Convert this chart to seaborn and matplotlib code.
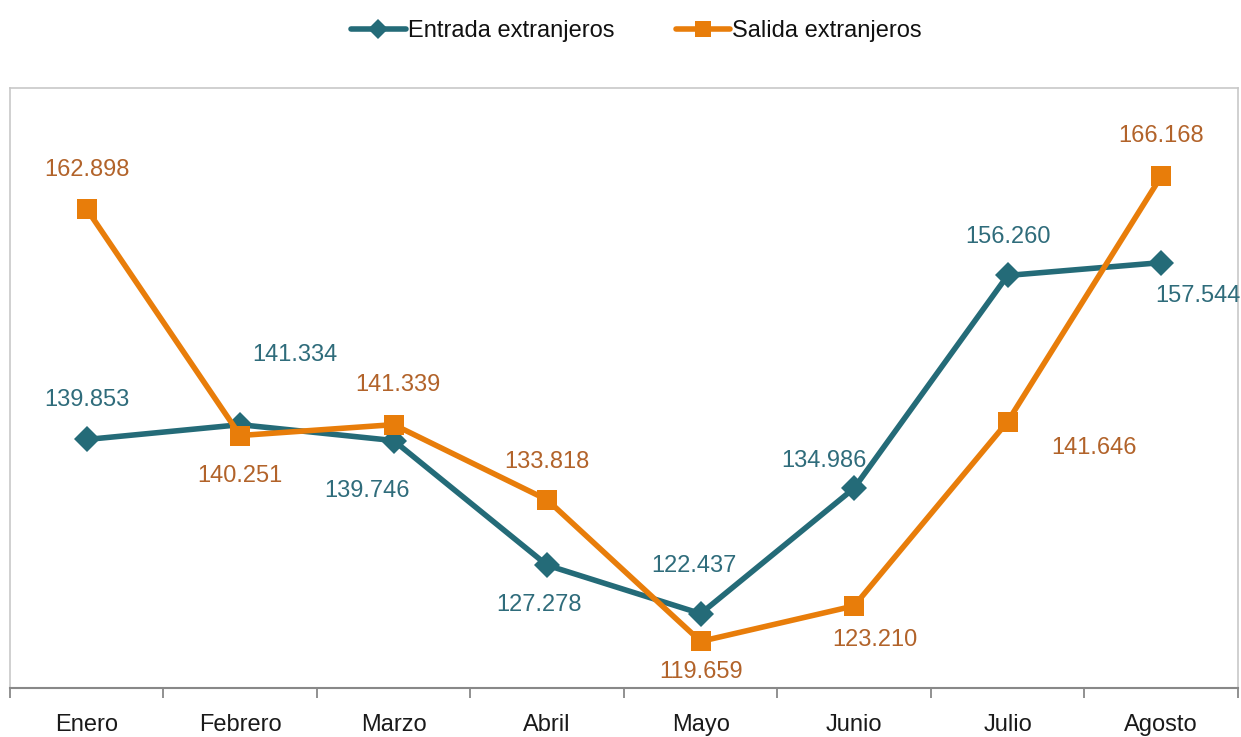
import matplotlib
matplotlib.use("Agg")
import matplotlib.pyplot as plt
import pandas as pd
import seaborn as sns

meses = ["Enero", "Febrero", "Marzo", "Abril", "Mayo", "Junio", "Julio", "Agosto"]
entrada = [139.853, 141.334, 139.746, 127.278, 122.437, 134.986, 156.260, 157.544]
salida = [162.898, 140.251, 141.339, 133.818, 119.659, 123.210, 141.646, 166.168]
series = ["Entrada extranjeros", "Salida extranjeros"]

# label offsets (pixels) relative to each point
off_entrada = [(0, 39), (55, 70), (-27, -50), (-8, -40), (-7, 48), (-30, 27), (0, 38), (37, -33)]
off_salida = [(0, 39), (0, -40), (4, 40), (0, 38), (0, -31), (21, -34), (86, -26), (0, 40)]

TEAL = "#246b78"
ORANGE = "#e87d0a"
TEAL_TXT = "#2f6c7b"
ORANGE_TXT = "#b2632a"

df = pd.DataFrame({
    "Mes": meses * 2,
    "Valor": entrada + salida,
    "Serie": [series[0]] * len(meses) + [series[1]] * len(meses),
})

sns.set_theme(style="white")
plt.rcParams["font.family"] = ["Liberation Sans", "DejaVu Sans"]

fig = plt.figure(figsize=(12.41, 7.37), dpi=100)
ax = fig.add_axes([0.008, 0.0665, 0.9895, 0.814])

sns.lineplot(data=df, x="Mes", y="Valor", hue="Serie", style="Serie",
             markers={series[0]: "D", series[1]: "s"}, dashes=False,
             palette=[TEAL, ORANGE], linewidth=4.0, markeredgewidth=0,
             ax=ax, legend=True, sort=False)
sizes = [13, 15]
for ln, ms in zip(ax.lines[:2], sizes):
    ln.set_markersize(ms)

for i, v in enumerate(entrada):
    ax.annotate(f"{v:.3f}", (i, v), xytext=off_entrada[i], textcoords="offset pixels",
                ha="center", va="center", fontsize=17, color=TEAL_TXT)
for i, v in enumerate(salida):
    ax.annotate(f"{v:.3f}", (i, v), xytext=off_salida[i], textcoords="offset pixels",
                ha="center", va="center", fontsize=17, color=ORANGE_TXT)

ax.set_xlim(-0.5, 7.5)
ax.set_ylim(115, 175)
ax.set_yticks([])
ax.set_xlabel("")
ax.set_ylabel("")
ax.set_xticks(range(len(meses)))
ax.set_xticklabels(meses, fontsize=17, color="#1a1a1a")
ax.set_xticks([i - 0.5 for i in range(len(meses) + 1)], minor=True)
ax.tick_params(axis="x", which="major", bottom=True, length=0, pad=19)
ax.tick_params(axis="x", which="minor", bottom=True, length=7, width=1.3,
               color="#888888", direction="out")

for s in ["top", "left", "right"]:
    ax.spines[s].set_color("#c8c8c8")
    ax.spines[s].set_linewidth(1.2)
ax.spines["bottom"].set_color("#888888")
ax.spines["bottom"].set_linewidth(1.5)

handles, labels = ax.get_legend_handles_labels()
ax.get_legend().remove()
for h, ms in zip(handles, [10, 11]):
    h.set_markersize(ms)
    h.set_linewidth(4.0)
fig.legend(handles, labels, loc="center", bbox_to_anchor=(0.513, 0.958), ncol=2,
           frameon=False, fontsize=17, handlelength=2.3, columnspacing=2.6,
           handletextpad=0.1, labelcolor="#111111")

fig.savefig("out.png", dpi=100)
